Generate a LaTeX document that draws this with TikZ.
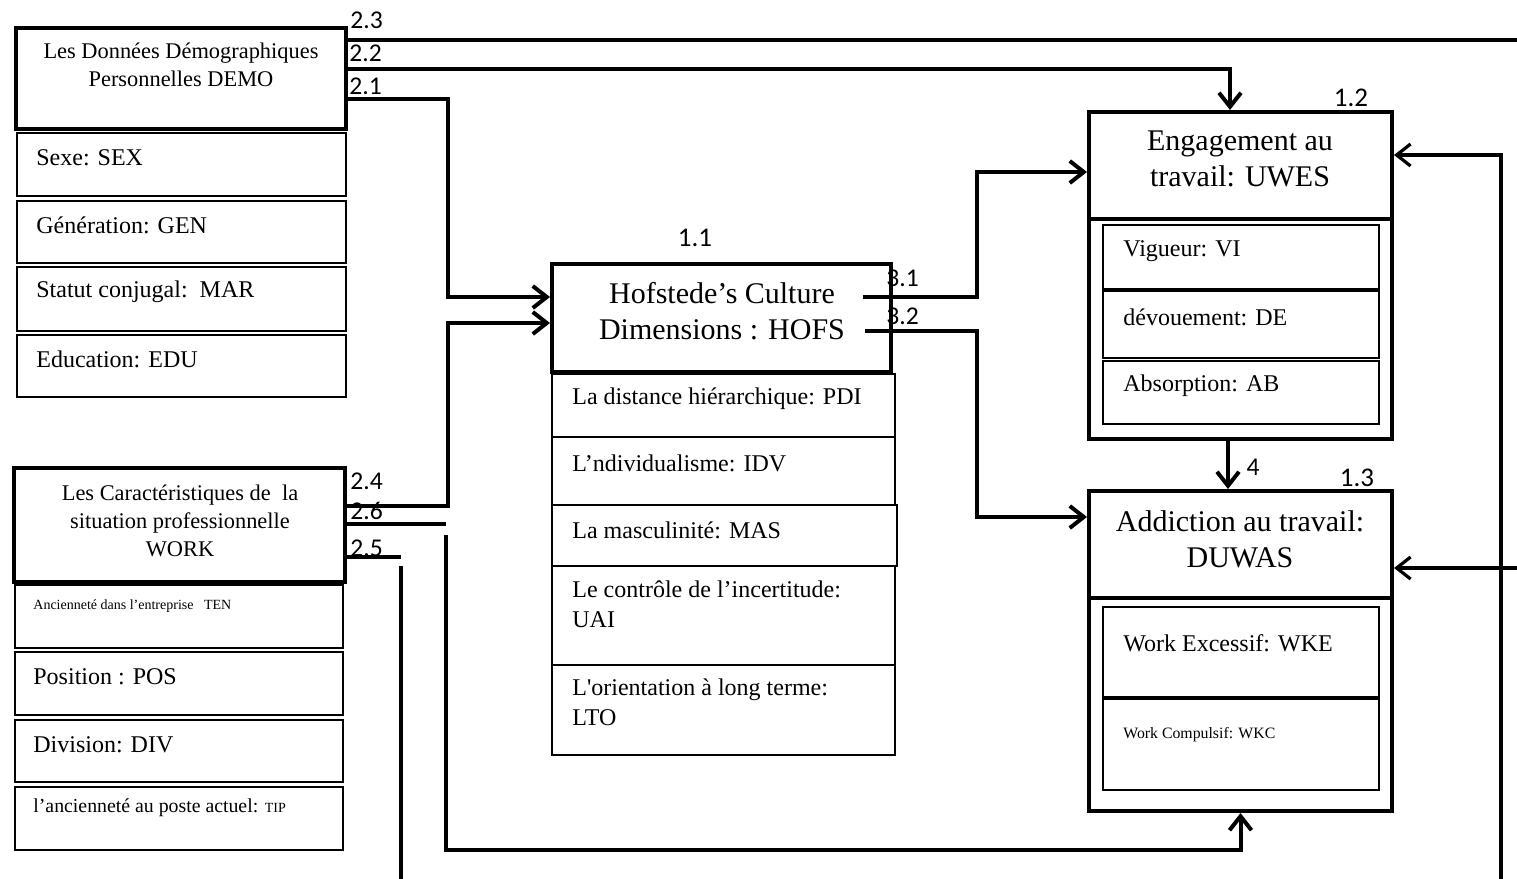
\documentclass[tikz,border=0pt]{standalone}
\usepackage{fontspec}
\setmainfont{Liberation Serif}
\newfontfamily\calfont{Carlito}
\newfontfamily\plainserif[Ligatures=NoCommon]{Liberation Serif}
\usetikzlibrary{arrows.meta,fit,calc}
\begin{document}
\begin{tikzpicture}[x=0.5pt,y=-0.5pt,
  thickbox/.style={draw, line width=2pt, inner sep=0pt},
  thinbox/.style={draw, line width=0.7pt, inner sep=0pt},
  conn/.style={line width=2pt},
  arr/.style={conn, -{Straight Barb[length=7pt,width=11pt]}},
  lab/.style={font=\calfont\fontsize{12.8}{14}\selectfont, inner sep=0pt},
  item/.style={font=\fontsize{12}{15}\selectfont, anchor=west, inner sep=0pt},
  twoline/.style={font=\fontsize{12}{15}\selectfont, anchor=north west, inner sep=0pt, align=left},
  title/.style={font=\fontsize{15}{18}\selectfont, align=center, inner sep=0pt},
  head/.style={font=\fontsize{11.2}{14}\selectfont, align=center, inner sep=0pt},
  small/.style={font=\fontsize{7}{9}\selectfont, anchor=west, inner sep=0pt}]
\useasboundingbox (0,0) rectangle (1517,879);

% ---- DEMO ----
\node[thickbox, fit={(16,28) (346,129)}] (demo) {};
\node[head] (demot) at (181,65) {Les Données Démographiques\\Personnelles DEMO};
\node[thinbox, fit={(17,133) (346,196)}] (sex) {};
\node[thinbox, fit={(17,201) (346,263)}] (gen) {};
\node[thinbox, fit={(17,267) (346,331)}] (mar) {};
\node[thinbox, fit={(17,335) (346,397)}] (edu) {};
\node[item] (sext) at (36,158) {Sexe: SEX};
\node[item] (gent) at (36,225) {Génération: GEN};
\node[item] (mart) at (36,292) {Statut conjugal:\ \ MAR};
\node[item] (edut) at (36,359) {Education: EDU};

% ---- WORK ----
\node[thickbox, fit={(14,468) (345,582)}] (work) {};
\node[head] (workt) at (180,521) {Les Caractéristiques de\ \ la\\situation professionnelle\\WORK};
\node[thinbox, fit={(15,585) (343,648)}] (ten) {};
\node[thinbox, fit={(15,652) (343,715)}] (pos) {};
\node[thinbox, fit={(15,720) (343,782)}] (div) {};
\node[thinbox, fit={(15,787) (343,850)}] (tip) {};
\node[small] (tent) at (33,606) {Ancienneté dans l’entreprise\ \ \ TEN};
\node[item] (post) at (33,677) {Position : POS};
\node[item] (divt) at (33,745) {Division: DIV};
\node[item, font=\fontsize{9.9}{12}\selectfont] (tipt) at (33,808) {l’ancienneté au poste actuel: {\fontsize{7}{9}\selectfont TIP}};

% ---- HOFS ----
\node[thickbox, fit={(552,264) (891,372)}] (hofs) {};
\node[title] (hofst) at (722,311) {Hofstede’s Culture\\Dimensions : HOFS};
\node[thinbox, fit={(552,374) (895,437)}] (pdi) {};
\node[thinbox, fit={(552,437) (895,505)}] (idv) {};
\node[thinbox, fit={(552,505) (897,566)}] (mas) {};
\node[thinbox, fit={(552,566) (895,665)}] (uai) {};
\node[thinbox, fit={(552,665) (895,755)}] (lto) {};
\node[item] (pdit) at (572,399) {La distance hiérarchique: PDI};
\node[item] (idvt) at (572,463) {L’ndividualisme: IDV};
\node[item] (mast) at (572,530) {La masculinité: MAS};
\node[twoline] (uait) at (572,580) {Le contrôle de l’incertitude:\\UAI};
\node[twoline] (ltot) at (572,678) {L\textquotesingle orientation à long terme:\\LTO};

% ---- UWES ----
\node[thickbox, fit={(1089,112) (1392,219)}] (uwes) {};
\node[thickbox, fit={(1089,219) (1392,439)}] (uwesout) {};
\node[title] (uwest) at (1240,159) {Engagement au\\travail: UWES};
\node[thinbox, fit={(1103,225) (1379,289)}] (vi) {};
\node[thinbox, fit={(1103,291) (1379,358)}] (de) {};
\node[thinbox, fit={(1103,361) (1379,424)}] (ab) {};
\node[item] (vit) at (1123,251) {Vigueur: VI};
\node[item] (det) at (1123,317) {dévouement: DE};
\node[item] (abt) at (1123,386) {Absorption: AB};

% ---- DUWAS ----
\node[thickbox, fit={(1089,491) (1392,598)}] (duwas) {};
\node[thickbox, fit={(1089,598) (1392,811)}] (duwasout) {};
\node[title] (duwast) at (1240,539) {Addiction au travail:\\DUWAS};
\node[thinbox, fit={(1103,607) (1379,697)}] (wke) {};
\node[thinbox, fit={(1103,699) (1379,790)}] (wkc) {};
\node[item] (wket) at (1123,643) {Work Excessif: WKE};
\node[item, font=\fontsize{7.9}{9}\selectfont] (wkct) at (1123,735) {Work Compulsif: WKC};

% ---- labels ----
\node[lab, anchor=west] (l23) at (350,20) {2.3};
\node[lab, anchor=west] (l22) at (349,53) {2.2};
\node[lab, anchor=west] (l21) at (349,86) {2.1};
\node[lab, anchor=west] (l24) at (350,481) {2.4};
\node[lab, anchor=west] (l26) at (350,511) {2.6};
\node[lab, anchor=west] (l25) at (350,548) {2.5};
\node[lab, anchor=west] (l31) at (886,278) {3.1};
\node[lab, anchor=west] (l32) at (886,316) {3.2};
\node[lab, font=\calfont\fontsize{13.5}{15}\selectfont] (l11) at (695,238) {1.1};
\node[lab, font=\calfont\fontsize{13.5}{15}\selectfont] (l12) at (1351,98) {1.2};
\node[lab, font=\calfont\fontsize{13.5}{15}\selectfont] (l13) at (1357,478) {1.3};
\node[lab] (l4) at (1253,467) {4};

% ---- connectors ----
\coordinate (e23) at (1517,40);
\draw[conn] (demo.east |- 0,40) -- (e23);
\draw[arr] (demo.east |- 0,69) -| (1230,0 |- uwes.north);
\draw[arr] (demo.east |- 0,99) -- (448,99) |- (hofs.west |- 0,297);
\draw[arr] (work.east |- 0,506) -- (448,506) |- (hofs.west |- 0,323);
\coordinate (e26) at (446,524);
\draw[conn] (work.east |- 0,524) -- (e26);
\coordinate (s26) at (446,535);
\draw[arr] (s26) |- (duwasout.south |- 0,850) -- (duwasout.south);
\coordinate (e25) at (401,557);
\draw[conn] (work.east |- 0,557) -- (e25);
\coordinate (s25) at (401,566);
\coordinate (b25) at (401,879);
\draw[conn] (s25) -- (b25);
\coordinate (s31) at (863,297);
\draw[arr] (s31) -- (977,297) |- (uwes.west |- 0,172);
\coordinate (s32) at (865,331);
\draw[arr] (s32) -- (977,331) |- (duwas.west |- 0,517);
\draw[arr] (uwesout.south -| 1228,0) -- (duwas.north -| 1228,0);
\coordinate (rb) at (1501,879);
\draw[arr, line width=1.6pt] (rb) -- (1501,155) -- (uwes.east |- 0,155);
\coordinate (re) at (1517,568);
\draw[arr, line width=1.6pt] (re) -- (duwas.east |- 0,568);
\end{tikzpicture}
\end{document}
